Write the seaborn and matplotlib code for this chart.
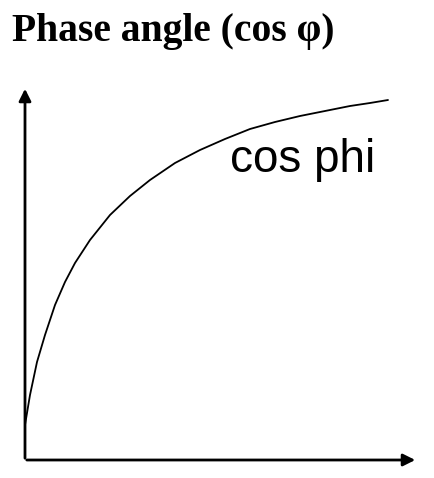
import matplotlib
matplotlib.use('Agg')
import matplotlib.pyplot as plt
import seaborn as sns
import pandas as pd

sns.set_style('white')

# curve (pixel-like units, y grows downward)
curve_x = [25, 30, 37, 45, 55, 65, 75, 90, 110, 130, 150, 175, 200, 225, 250, 275, 300, 325, 350, 370, 388]
curve_y = [425, 395, 362, 335, 305, 282, 263, 240, 215, 196, 180, 163, 150, 139, 129, 122, 116, 111, 106, 103, 100]

title_text = 'Phase angle (cos φ)'
label_text = 'cos phi'

df = pd.DataFrame({'x': curve_x, 'y': curve_y})

fig = plt.figure(figsize=(4.34, 4.78), dpi=100)
ax = fig.add_axes([0, 0, 1, 1])
sns.lineplot(data=df, x='x', y='y', color='black', linewidth=1.3, ax=ax)
ax.set_xlim(0, 434)
ax.set_ylim(478, 0)
ax.axis('off')

# axes with arrow heads
ax.annotate('', xy=(25, 86), xytext=(25, 461),
            arrowprops=dict(arrowstyle='-|>', color='black', lw=2, mutation_scale=18))
ax.annotate('', xy=(418, 460), xytext=(24, 460),
            arrowprops=dict(arrowstyle='-|>', color='black', lw=2, mutation_scale=18))

ax.text(12, 41, title_text, fontsize=28.5, fontweight='bold', family='Liberation Serif',
        va='baseline', color='black')
ax.text(230, 172, label_text, fontsize=33, family='Liberation Sans', va='baseline', color='black')

fig.savefig('out.png', dpi=100)
